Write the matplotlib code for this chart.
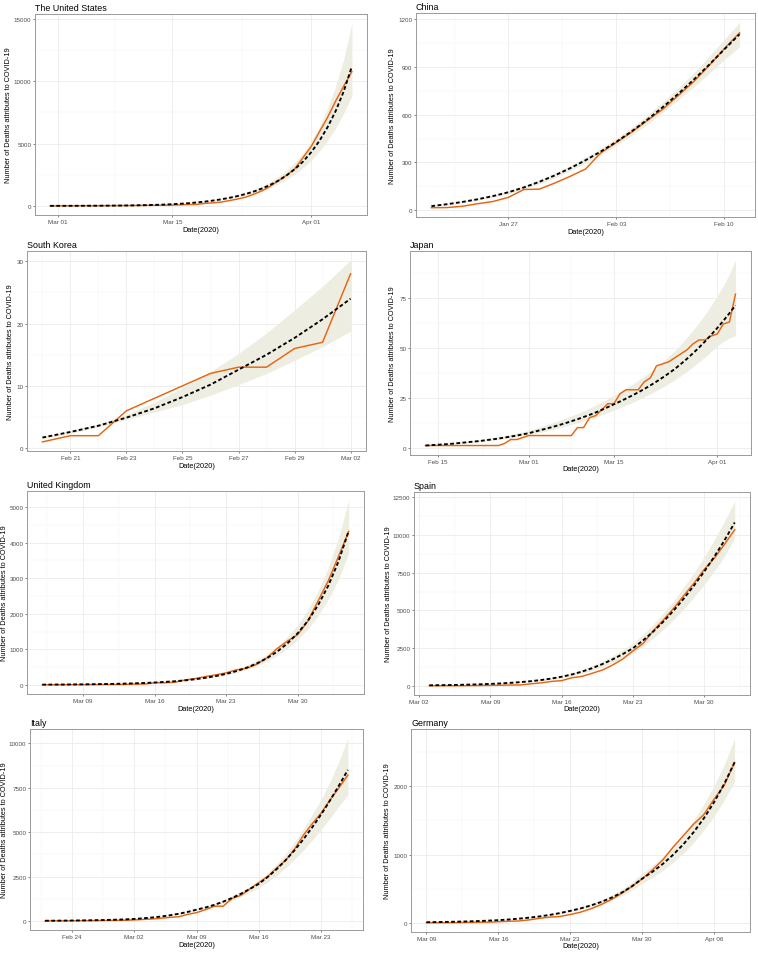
import numpy as np
import pandas as pd
import matplotlib
matplotlib.use('Agg')
import matplotlib.pyplot as plt
import matplotlib.dates as mdates

plt.rcParams['font.family'] = ['Liberation Sans', 'DejaVu Sans']

# ---- data ----
titles = ['The United States', 'China', 'South Korea', 'Japan',
          'United Kingdom', 'Spain', 'Italy', 'Germany']
start_dates = ['2020-02-29', '2020-01-22', '2020-02-20', '2020-02-13',
               '2020-03-05', '2020-03-03', '2020-02-21', '2020-03-09']

# The United States
us_actual = [1, 1, 6, 7, 11, 12, 14, 17, 21, 22, 28, 36, 40, 47, 54, 63, 85, 108, 118, 200,
             244, 307, 427, 552, 706, 942, 1209, 1581, 2026, 2467, 2978, 3873,
             4757, 5926, 7087, 8407, 9619, 10783]
us_pred = [3, 4, 5, 7, 9, 11, 14, 18, 23, 30, 39, 50, 64, 82, 105, 135, 172, 218, 275, 345,
           430, 530, 650, 790, 960, 1160, 1400, 1690, 2030, 2450, 2950, 3550,
           4300, 5200, 6300, 7600, 9200, 11200]
us_hi = [3, 4, 5, 7, 9, 12, 15, 19, 24, 32, 41, 53, 68, 87, 112, 145, 186, 237, 300, 380,
         473, 588, 728, 889, 1085, 1322, 1610, 1952, 2355, 2867, 3480, 4220,
         5160, 6340, 7810, 9580, 11780, 14670]
us_lo = [3, 4, 5, 6, 8, 10, 13, 17, 21, 27, 36, 46, 59, 75, 96, 124, 158, 200, 252, 316,
         391, 480, 585, 707, 854, 1027, 1232, 1482, 1772, 2132, 2552, 3053,
         3655, 4368, 5229, 6232, 7452, 8848]

# China
cn_actual = [17, 18, 26, 42, 56, 82, 131, 133, 171, 213, 259, 361, 425, 490, 562, 632,
             717, 804, 904, 1011, 1111]
cn_pred = [27, 39, 53, 70, 90, 114, 144, 179, 219, 264, 314, 369, 429, 495, 567, 645,
           728, 816, 909, 1007, 1102]
cn_hi = [30, 43, 58, 76, 97, 123, 154, 191, 233, 280, 332, 389, 451, 520, 595, 677,
         765, 859, 961, 1069, 1177]
cn_lo = [24, 35, 48, 64, 83, 105, 134, 167, 205, 248, 296, 349, 407, 470, 539, 613,
         691, 772, 855, 943, 1025]

# South Korea
kr_actual = [1, 2, 2, 6, 8, 10, 12, 13, 13, 16, 17, 28]
kr_pred = [1.7, 2.6, 3.6, 4.9, 6.4, 8.2, 10.2, 12.6, 15.0, 17.7, 20.7, 24.0]
kr_hi = [1.9, 2.8, 3.9, 5.4, 7.4, 9.7, 12.3, 15.2, 18.5, 22.2, 26.0, 30.2]
kr_lo = [1.5, 2.4, 3.4, 4.6, 5.8, 7.0, 8.5, 10.2, 12.0, 14.1, 16.3, 18.8]

# Japan
jp_actual = [1, 1, 1, 1, 1, 1, 1, 1, 1, 1, 1, 1, 1, 2, 4, 4, 5,
             6, 6, 6, 6, 6, 6, 6, 6, 10, 10, 15, 16, 19, 22, 22, 27, 29, 29, 29, 33,
             35, 41, 42, 43, 45, 47, 49, 52, 54, 54, 56,
             57, 62, 63, 77]
jp_pred = [1.0, 1.2, 1.4, 1.6, 1.8, 2.1, 2.4, 2.7, 3.0, 3.3, 3.7, 4.1, 4.5, 5.0, 5.5, 6.0, 6.6,
           7.2, 8.0, 8.8, 9.6, 10.4, 11.3, 12.2, 13.2, 14.2, 15.3, 16.4, 17.6, 18.9, 20.3,
           21.7, 23.1, 24.6, 26.1, 27.7, 29.4, 31.2, 33.1, 35.1, 37.2, 39.4, 41.9, 44.5,
           47.3, 50.2, 53.3, 56.6,
           60.0, 63.6, 67.4, 71.4]
jp_hi = [1.2, 1.4, 1.7, 1.9, 2.2, 2.5, 2.9, 3.2, 3.6, 4.0, 4.4, 4.9, 5.4, 6.0, 6.6, 7.2, 7.9,
         8.6, 9.6, 10.5, 11.5, 12.5, 13.6, 14.7, 15.9, 17.1, 18.4, 19.8, 21.3, 22.9, 24.5,
         26.2, 28.0, 29.8, 31.7, 33.7, 35.8, 38.1, 40.5, 43.0, 45.7, 48.6, 51.8, 55.2,
         58.9, 62.7, 66.8, 71.3,
         76.1, 81.3, 87.0, 94.0]
jp_lo = [0.9, 1.1, 1.2, 1.4, 1.6, 1.8, 2.1, 2.4, 2.6, 2.9, 3.3, 3.6, 4.0, 4.4, 4.8, 5.3, 5.8,
         6.3, 7.0, 7.7, 8.4, 9.1, 9.9, 10.7, 11.6, 12.4, 13.4, 14.3, 15.3, 16.4, 17.6,
         18.8, 20.0, 21.3, 22.6, 24.0, 25.5, 27.0, 28.6, 30.3, 32.1, 34.0, 36.0, 38.2,
         40.5, 43.0, 45.5, 48.2,
         50.9, 53.2, 55.0, 56.2]

# United Kingdom
uk_actual = [1, 2, 2, 3, 4, 6, 8, 8, 8, 21, 21, 56, 56, 72, 138, 178, 234, 282, 336, 423,
             466, 580, 761, 1021, 1231, 1411, 1793, 2357, 2926, 3611, 4320]
uk_pred = [5, 7, 8, 11, 13, 17, 21, 26, 33, 41, 52, 65, 81, 101, 126, 158, 198, 247, 308, 385,
           480, 600, 750, 935, 1165, 1450, 1800, 2240, 2790, 3470, 4330]
uk_hi = [5.4, 7.6, 8.7, 11.9, 14.1, 18.4, 22.8, 28.2, 35.9, 44.7, 56.5, 71, 89, 112, 140,
         176, 222, 278, 348, 437, 547, 687, 863, 1080, 1351, 1689, 2106, 2632, 3292, 4129, 5196]
uk_lo = [4.7, 6.5, 7.4, 10.1, 12.0, 15.6, 19.3, 23.8, 30.2, 37.5, 47.2, 58.9, 73.3, 91.3,
         113.8, 142.6, 178, 221, 275, 343, 426, 531, 663, 826, 1027, 1265, 1570, 1945,
         2407, 2975, 3700]

# Spain
es_actual = [1, 2, 3, 5, 10, 17, 28, 35, 54, 55, 133, 195, 289, 342, 533, 623, 830, 1043,
             1375, 1772, 2311, 2808, 3647, 4365, 5138, 5982, 6803, 7716, 8464, 9387, 10348]
es_pred = [33, 41, 51, 64, 80, 100, 126, 157, 197, 246, 307, 384, 480, 600, 750, 940, 1170,
           1440, 1750, 2100, 2490, 3010, 3600, 4260, 4990, 5790, 6650, 7570, 8570, 9650, 10830]
es_hi = [38, 47, 59, 74, 92, 115, 145, 180, 226, 282, 352, 440, 550, 687, 858, 1074, 1335,
         1640, 1990, 2385, 2825, 3410, 4075, 4815, 5635, 6540, 7510, 8555, 9690, 10915, 12240]
es_lo = [29, 36, 44, 56, 70, 87, 110, 137, 171, 214, 267, 334, 418, 522, 653, 818, 1018,
         1253, 1525, 1830, 2175, 2635, 3160, 3745, 4395, 5110, 5880, 6710, 7610, 8590, 9810]

# Italy
it_actual = [1, 2, 3, 7, 10, 12, 17, 21, 29, 34, 52, 79, 107, 148, 197, 233, 366, 463, 631,
             827, 827, 1266, 1441, 1809, 2158, 2503, 2978, 3405, 4032, 4825, 5476, 6077,
             6820, 7503, 8215]
it_pred = [8, 11, 15, 20, 26, 33, 42, 53, 67, 85, 110, 145, 190, 245, 315, 400, 505, 633,
           753, 903, 1083, 1293, 1533, 1798, 2088, 2475, 2915, 3415, 3975, 4595, 5275, 6000,
           6790, 7630, 8510]
it_hi = [9, 12, 16, 22, 28, 36, 45, 57, 72, 92, 119, 157, 205, 265, 340, 432, 546, 685,
         815, 977, 1172, 1400, 1660, 1950, 2276, 2710, 3210, 3780, 4430, 5170, 6000, 6840,
         7840, 9000, 10300]
it_lo = [7, 10, 14, 18, 24, 30, 39, 49, 62, 78, 101, 133, 174, 224, 288, 366, 461, 577,
         685, 819, 980, 1166, 1379, 1615, 1858, 2195, 2570, 2995, 3465, 3985, 4545, 5160,
         5795, 6470, 7110]

# Germany
de_actual = [2, 2, 3, 3, 7, 9, 11, 17, 24, 28, 44, 67, 84, 94, 123, 157, 206, 267, 342, 433,
             533, 645, 775, 920, 1107, 1275, 1444, 1584, 1810, 2016, 2349]
de_pred = [10, 12, 15, 18, 22, 27, 33, 40, 50, 62, 77, 95, 117, 144, 176, 212, 255, 306, 368,
           442, 535, 647, 747, 862, 995, 1148, 1325, 1529, 1765, 2037, 2350]
de_hi = [11, 13, 17, 20, 24, 30, 36, 44, 55, 68, 85, 105, 129, 159, 194, 234, 282, 339, 408,
         491, 595, 725, 838, 969, 1122, 1297, 1500, 1735, 2005, 2320, 2703]
de_lo = [9, 11, 14, 16, 20, 25, 30, 36, 45, 56, 70, 86, 106, 131, 160, 192, 231, 276, 332,
         398, 480, 578, 666, 768, 885, 1020, 1176, 1357, 1563, 1800, 2068]

actuals = [us_actual, cn_actual, kr_actual, jp_actual, uk_actual, es_actual, it_actual, de_actual]
preds = [us_pred, cn_pred, kr_pred, jp_pred, uk_pred, es_pred, it_pred, de_pred]
his = [us_hi, cn_hi, kr_hi, jp_hi, uk_hi, es_hi, it_hi, de_hi]
los = [us_lo, cn_lo, kr_lo, jp_lo, uk_lo, es_lo, it_lo, de_lo]

y_ticks = [[0, 5000, 10000, 15000],
           [0, 300, 600, 900, 1200],
           [0, 10, 20, 30],
           [0, 25, 50, 75],
           [0, 1000, 2000, 3000, 4000, 5000],
           [0, 2500, 5000, 7500, 10000, 12500],
           [0, 2500, 5000, 7500, 10000],
           [0, 1000, 2000]]
x_ticks = [['2020-03-01', '2020-03-15', '2020-04-01'],
           ['2020-01-27', '2020-02-03', '2020-02-10'],
           ['2020-02-21', '2020-02-23', '2020-02-25', '2020-02-27', '2020-02-29', '2020-03-02'],
           ['2020-02-15', '2020-03-01', '2020-03-15', '2020-04-01'],
           ['2020-03-09', '2020-03-16', '2020-03-23', '2020-03-30'],
           ['2020-03-02', '2020-03-09', '2020-03-16', '2020-03-23', '2020-03-30'],
           ['2020-02-24', '2020-03-02', '2020-03-09', '2020-03-16', '2020-03-23'],
           ['2020-03-09', '2020-03-16', '2020-03-23', '2020-03-30', '2020-04-06']]

# panel boxes in pixels: left, top, right, bottom
boxes = [(35, 15, 367, 216), (416, 14, 755, 218),
         (27, 252, 366, 452), (410, 252, 751, 456),
         (27, 492, 364, 695), (414, 493, 750, 696),
         (30, 730, 363, 931), (411, 730, 750, 933)]
# pixel x of the y-label centre, pixel y of the x-label centre
ylab_x = [9, 393, 10, 393, 5, 388, 5, 387]
xlab_y = [230.5, 232.5, 466.5, 469.5, 710, 710, 946, 947]

W, H = 758, 954
ORANGE = '#E8650F'
BAND = '#EDEDE1'
GRID = '#EBEBEB'


def minor_between(m):
    m = np.asarray(m, dtype=float)
    mids = (m[1:] + m[:-1]) / 2
    return np.concatenate([[m[0] - (m[1] - m[0]) / 2], mids, [m[-1] + (m[-1] - m[-2]) / 2]])


fig = plt.figure(figsize=(W / 100, H / 100), dpi=100)

for i in range(8):
    l, t, r, b = boxes[i]
    ax = fig.add_axes([l / W, 1 - b / H, (r - l) / W, (b - t) / H])
    dates = pd.date_range(start_dates[i], periods=len(actuals[i]), freq='D')

    ax.fill_between(dates, los[i], his[i], color=BAND, lw=0, zorder=2)
    ax.plot(dates, actuals[i], color=ORANGE, lw=1.05, zorder=3)
    ax.plot(dates, preds[i], color='black', lw=1.35, linestyle=(0, (2.0, 1.3)), zorder=4)

    xt = mdates.date2num(pd.to_datetime(x_ticks[i]))
    ax.set_xticks(xt)
    ax.set_xticklabels(pd.to_datetime(x_ticks[i]).strftime('%b %d'))
    ax.set_xticks(minor_between(xt), minor=True)
    ax.set_yticks(y_ticks[i])
    ax.set_yticks(minor_between(y_ticks[i]), minor=True)
    ax.set_xlim(mdates.date2num(dates[0]) - 0.05 * (len(dates) - 1),
                mdates.date2num(dates[-1]) + 0.05 * (len(dates) - 1))
    lo_all = min(min(los[i]), min(actuals[i]), min(preds[i]))
    hi_all = max(max(his[i]), max(actuals[i]), max(preds[i]))
    ax.set_ylim(lo_all - 0.05 * (hi_all - lo_all), hi_all + 0.05 * (hi_all - lo_all))

    ax.grid(which='major', color=GRID, lw=0.6, zorder=0)
    ax.grid(which='minor', color='#F4F4F4', lw=0.35, zorder=0)
    ax.set_axisbelow(True)
    ax.tick_params(which='major', length=1.6, width=0.5, color='#555555',
                   labelsize=4.5, labelcolor='#4D4D4D', pad=1)
    ax.tick_params(which='minor', length=0)
    for s in ax.spines.values():
        s.set_color('#9A9A9A')
        s.set_linewidth(0.7)

    ax.set_title(titles[i], loc='left', fontsize=6.4, pad=3)
    ax.set_xlabel('Date(2020)', fontsize=5.3, va='center')
    ax.set_ylabel('Number of Deaths attributes to COVID-19', fontsize=5.3, va='center')
    ax.xaxis.set_label_coords(0.5, (b - xlab_y[i]) / (b - t))
    ax.yaxis.set_label_coords((ylab_x[i] - l) / (r - l), 0.5)

plt.savefig('out.png', dpi=100)
